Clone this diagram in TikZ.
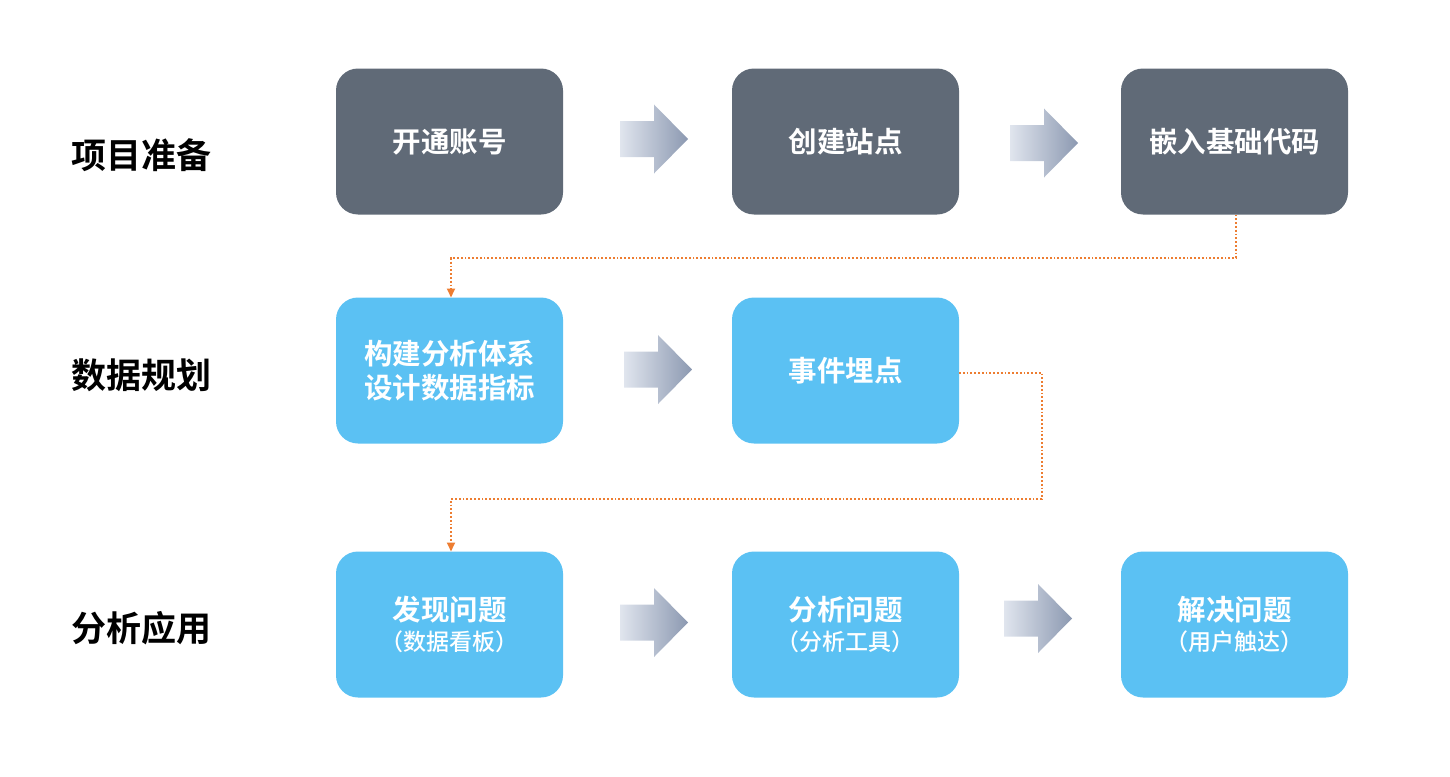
\documentclass[tikz,border=0pt]{standalone}
\usepackage{fontspec}
\setmainfont{Noto Sans CJK SC}
\newfontfamily\cjkb{Noto Sans CJK SC Bold}
\newfontfamily\cjkm{Noto Sans CJK SC Medium}
\usetikzlibrary{arrows.meta}
\definecolor{boxgray}{HTML}{606A77}
\definecolor{boxblue}{HTML}{5BC1F3}
\definecolor{arrl}{HTML}{E0E5EE}
\definecolor{arrr}{HTML}{8C99B1}
\definecolor{conn}{HTML}{ED7D31}
\newcommand{\mysubfont}{\cjkm\fontsize{23}{26}\selectfont}
% #1 = name, #2 = left x, #3 = centre y
\newcommand{\bigarr}[3]{%
  \coordinate (#1) at (#2,#3);
  \shade[left color=arrl,right color=arrr,shift={(#1)}]
    (0,-18) -- (34,-18) -- (34,-34.5) -- (68,0) -- (34,34.5) -- (34,18) -- (0,18) -- cycle;}
\tikzset{
  x=1pt,y=-1pt,
  stepbox/.style={rounded corners=22pt,minimum width=227pt,minimum height=146pt,inner sep=0pt,outer sep=0pt,text=white,align=center,font=\cjkb\fontsize{28.5}{34}\selectfont},
  graybox/.style={stepbox,fill=boxgray},
  bluebox/.style={stepbox,fill=boxblue},
  rowlabel/.style={anchor=west,inner sep=0pt,font=\cjkb\fontsize{35}{40}\selectfont},
  link/.style={conn,line width=1.8pt,dotted,-{Triangle[length=9pt,width=8pt]}}
}
\begin{document}
\begin{tikzpicture}
\useasboundingbox (0,0) rectangle (1450,776);
% row labels
\node[rowlabel] (l1) at (71,155) {项目准备};
\node[rowlabel] (l2) at (71,375) {数据规划};
\node[rowlabel] (l3) at (71,628) {分析应用};
% row 1
\node[graybox] (a1) at (449.5,141.5) {开通账号};
\node[graybox] (a2) at (845.5,141.5) {创建站点};
\node[graybox] (a3) at (1234.5,141.5) {嵌入基础代码};
% row 2
\node[bluebox] (b1) at (449.5,370.5) {构建分析体系\\设计数据指标};
\node[bluebox] (b2) at (845.5,370.5) {事件埋点};
% row 3
\node[bluebox] (c1) at (449.5,624.5) {发现问题\\[-4pt]{\mysubfont （数据看板）}};
\node[bluebox] (c2) at (845.5,624.5) {分析问题\\[-4pt]{\mysubfont （分析工具）}};
\node[bluebox] (c3) at (1234.5,624.5) {解决问题\\[-4pt]{\mysubfont （用户触达）}};
% arrows
\bigarr{r1}{620}{139}
\bigarr{r2}{1010}{143}
\bigarr{r3}{624}{369.5}
\bigarr{r4}{620}{622.5}
\bigarr{r5}{1004}{618.5}
% connectors
\coordinate (k1) at (1236,258);
\coordinate (k2) at (451,258);
\draw[link] (a3.south -| k1) -- (k1) -- (k2) -- (k2 |- b1.north);
\coordinate (m1) at (1042,373);
\coordinate (m2) at (1042,499);
\coordinate (m3) at (451,499);
\draw[link] (b2.east |- m1) -- (m1) -- (m2) -- (m3) -- (m3 |- c1.north);
\end{tikzpicture}
\end{document}
